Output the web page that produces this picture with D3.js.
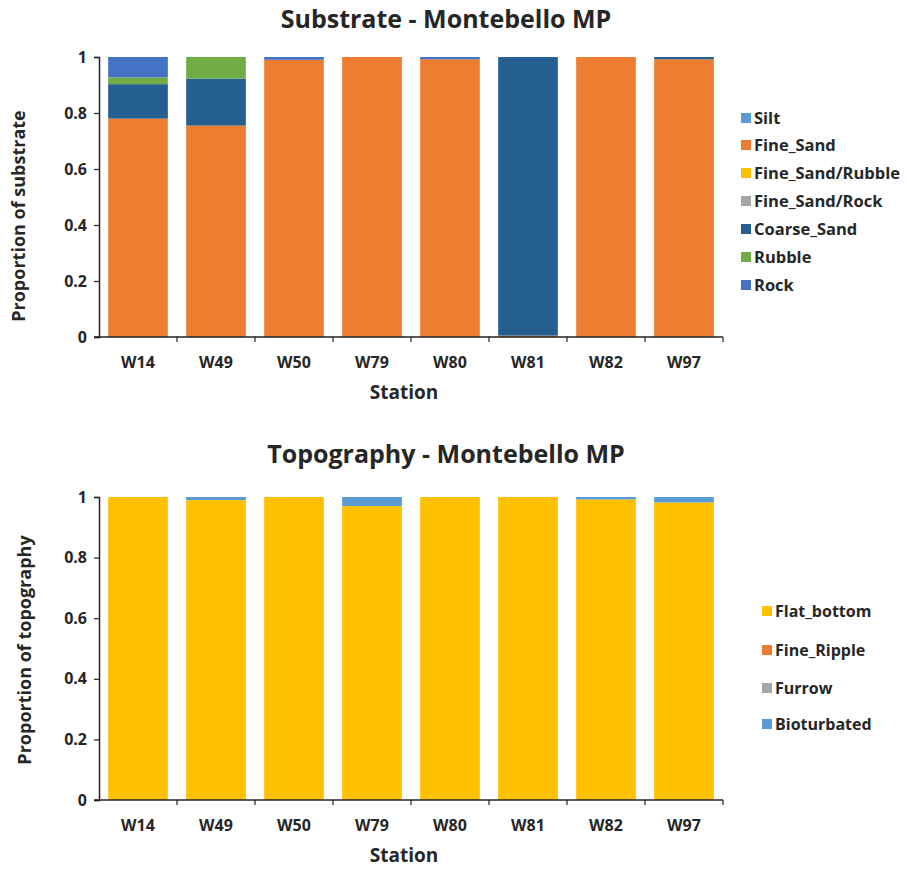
<!DOCTYPE html>
<html><head><meta charset="utf-8">
<script src="https://cdn.jsdelivr.net/npm/d3@7"></script>
<style>body{margin:0;background:#fff}svg{display:block}text{font-family:"Open Sans",Calibri,sans-serif}</style>
</head><body>
<svg id="c" width="908" height="870"></svg>
<script>
const stations = ["W14","W49","W50","W79","W80","W81","W82","W97"];
const substrateSeries = ["Silt","Fine_Sand","Fine_Sand/Rubble","Fine_Sand/Rock","Coarse_Sand","Rubble","Rock"];
const substrateColors = ["#5B9BD5","#ED7D31","#FFC000","#A5A5A5","#255E91","#70AD47","#4472C4"];
const silt        = [0,0,0,0,0,0,0,0];
const fineSand    = [0.78,0.755,0.99,1,0.992,0.005,1,0.992];
const fsRubble    = [0,0,0,0,0,0,0,0];
const fsRock      = [0,0,0,0,0,0,0,0];
const coarseSand  = [0.123,0.168,0,0,0,0.995,0,0.008];
const rubble      = [0.024,0.077,0,0,0,0,0,0];
const rock        = [0.073,0,0.01,0,0.008,0,0,0];

const topoSeries = ["Flat_bottom","Fine_Ripple","Furrow","Bioturbated"];
const topoColors = ["#FFC000","#ED7D31","#A5A5A5","#5B9BD5"];
const flatBottom  = [1,0.99,1,0.97,1,1,0.992,0.982];
const fineRipple  = [0,0,0,0,0,0,0,0];
const furrow      = [0,0,0,0,0,0,0,0];
const bioturbated = [0,0.01,0,0.03,0,0,0.008,0.018];
const yTicks = [0,0.2,0.4,0.6,0.8,1];

const svg = d3.select("#c");
const ink = "#262626";

function chart(cfg){
  const {title, titleY, series, colors, values, top, bottom, yTitle, yTitleX, yTitleY, legendX, legendYs, legendSize} = cfg;
  const x0 = 99, x1 = 723;
  const rows = stations.map((s,i)=>{const r={station:s}; series.forEach((k,j)=>r[k]=values[j][i]); return r;});
  const stack = d3.stack().keys(series)(rows);
  const x = d3.scaleBand().domain(stations).range([x0,x1]).paddingInner(0.235).paddingOuter(0.1175);
  const y = d3.scaleLinear().domain([0,1]).range([bottom, top]);
  const color = d3.scaleOrdinal().domain(series).range(colors);
  const g = svg.append("g");
  g.append("text").attr("x",446).attr("y",titleY).attr("text-anchor","middle")
    .attr("font-size",25).attr("font-weight","bold").attr("fill",ink).text(title);
  g.selectAll("g.layer").data(stack).join("g").attr("fill",d=>color(d.key))
    .selectAll("rect").data(d=>d).join("rect")
    .attr("x",d=>x(d.data.station)).attr("width",x.bandwidth())
    .attr("y",d=>y(d[1])).attr("height",d=>Math.max(0,y(d[0])-y(d[1])));
  // y axis
  const ya = g.append("g").attr("transform",`translate(${x0},0)`)
    .call(d3.axisLeft(y).tickValues(yTicks).tickFormat(d=>d===0||d===1?String(d):d3.format(".1f")(d)).tickSize(5).tickSizeOuter(5).tickPadding(7));
  ya.select(".domain").attr("stroke","#222").attr("stroke-width",1.5);
  ya.selectAll(".tick line").attr("stroke","#222").attr("stroke-width",1.2);
  ya.selectAll("text").attr("font-size",16).attr("font-weight","bold").attr("fill",ink);
  // x axis with ticks at band boundaries
  const xa = g.append("g").attr("transform",`translate(0,${bottom})`);
  xa.append("line").attr("x1",x0-5).attr("x2",x1).attr("y1",0).attr("y2",0).attr("stroke","#222").attr("stroke-width",1.5);
  const step = x.step();
  const bounds = stations.map(s=>x(s)+x.bandwidth()+(step-x.bandwidth())/2);
  xa.selectAll("line.t").data(bounds).join("line").attr("class","t")
    .attr("x1",d=>d).attr("x2",d=>d).attr("y1",0).attr("y2",5).attr("stroke","#222").attr("stroke-width",1.2);
  xa.selectAll("text.l").data(stations).join("text").attr("class","l")
    .attr("x",d=>x(d)+x.bandwidth()/2).attr("y",31).attr("text-anchor","middle")
    .attr("font-size",16).attr("font-weight","bold").attr("fill",ink).text(d=>d);
  xa.append("text").attr("x",404).attr("y",62).attr("text-anchor","middle")
    .attr("font-size",19).attr("font-weight","bold").attr("fill",ink).text("Station");
  g.append("text").attr("transform",`translate(${yTitleX},${yTitleY}) rotate(-90)`)
    .attr("text-anchor","middle").attr("font-size",18).attr("font-weight","bold").attr("fill",ink).text(yTitle);
  // legend
  const lg = g.selectAll("g.leg").data(series).join("g").attr("transform",(d,i)=>`translate(${legendX},${legendYs[i]})`);
  lg.append("rect").attr("x",0).attr("y",-5).attr("width",10).attr("height",10).attr("fill",d=>color(d));
  lg.append("text").attr("x",13).attr("y",6).attr("font-size",legendSize).attr("font-weight","bold").attr("fill",ink).text(d=>d);
}

chart({title:"Substrate - Montebello MP", titleY:28, series:substrateSeries, colors:substrateColors,
  values:[silt,fineSand,fsRubble,fsRock,coarseSand,rubble,rock], top:57, bottom:337,
  yTitle:"Proportion of substrate", yTitleX:25, yTitleY:216, legendX:741, legendYs:[118,145,173,201,229,257,285], legendSize:16.5});
chart({title:"Topography - Montebello MP", titleY:463, series:topoSeries, colors:topoColors,
  values:[flatBottom,fineRipple,furrow,bioturbated], top:497, bottom:800,
  yTitle:"Proportion of topography", yTitleX:31, yTitleY:650, legendX:762, legendYs:[611,650,688,724], legendSize:16});
</script>
</body></html>
